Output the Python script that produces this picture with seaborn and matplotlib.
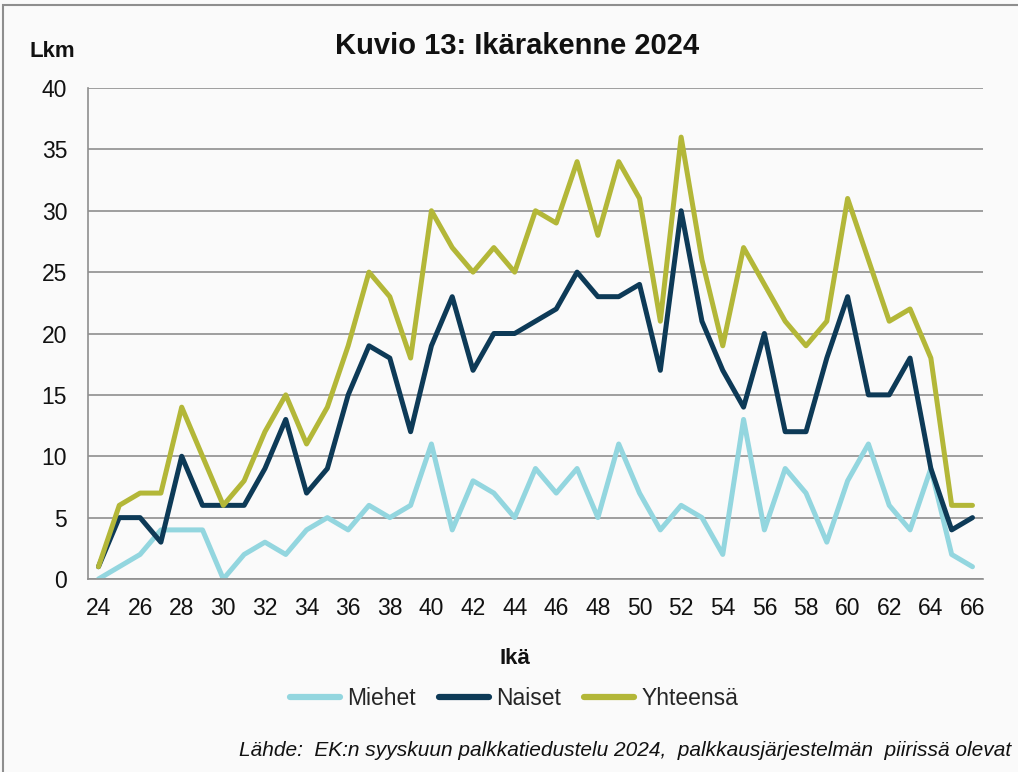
import pandas as pd
import numpy as np
import matplotlib
matplotlib.use("Agg")
import matplotlib.pyplot as plt
from matplotlib.patches import Rectangle
from matplotlib.ticker import MultipleLocator
import seaborn as sns

# Data
ages = list(range(24, 67))
naiset = [1, 5, 5, 3, 10, 6, 6, 6, 9, 13, 7, 9, 15, 19, 18, 12, 19, 23, 17, 20, 20,
          21, 22, 25, 23, 23, 24, 17, 30, 21, 17, 14, 20, 12, 12, 18, 23, 15, 15, 18,
          9, 4, 5]
miehet = [0, 1, 2, 4, 4, 4, 0, 2, 3, 2, 4, 5, 4, 6, 5, 6, 11, 4, 8, 7, 5,
          9, 7, 9, 5, 11, 7, 4, 6, 5, 2, 13, 4, 9, 7, 3, 8, 11, 6, 4,
          9, 2, 1]
yhteensa = [1, 6, 7, 7, 14, 10, 6, 8, 12, 15, 11, 14, 19, 25, 23, 18, 30, 27, 25, 27, 25,
            30, 29, 34, 28, 34, 31, 21, 36, 26, 19, 27, 24, 21, 19, 21, 31, 26, 21, 22,
            18, 6, 6]

series = ["Miehet", "Naiset", "Yhteensä"]
colors = ["#93d6df", "#0d3a57", "#b3b738"]

df = pd.DataFrame({"Ikä": ages, "Miehet": miehet, "Naiset": naiset, "Yhteensä": yhteensa})
long = df.melt(id_vars="Ikä", var_name="Sarja", value_name="Lkm")

sns.set_style("white")
plt.rcParams["font.family"] = ["Liberation Sans Narrow", "Liberation Sans", "DejaVu Sans"]

bg = "#fafafa"
fig = plt.figure(figsize=(10.18, 7.72), dpi=100, facecolor=bg)
ax = fig.add_axes([0.0865, 0.25, 0.879, 0.636])
ax.set_facecolor(bg)

sns.lineplot(data=long, x="Ikä", y="Lkm", hue="Sarja", hue_order=series,
             palette=colors, linewidth=3.6, ax=ax, legend=False)

ax.set_xlim(23.5, 66.5)
ax.set_ylim(0, 40)
ax.yaxis.set_major_locator(MultipleLocator(5))
ax.set_xticks(ages[::2])
ax.xaxis.set_minor_locator(MultipleLocator(1, offset=0.5))
ax.grid(axis="y", color="#8e8e8e", linewidth=1.2)
ax.set_axisbelow(True)
for s in ["top", "right"]:
    ax.spines[s].set_visible(False)
for s in ["left", "bottom"]:
    ax.spines[s].set_color("#8e8e8e")
    ax.spines[s].set_linewidth(1.2)
ax.tick_params(axis="x", which="major", length=0, labelsize=16.5, pad=13, colors="#111111")
ax.tick_params(axis="x", which="minor", length=6, color="#8e8e8e", direction="out")
ax.tick_params(axis="y", which="major", length=6, direction="out",
               labelsize=16.5, pad=9, colors="#111111")
ax.tick_params(axis="y", which="major", color="#8e8e8e")
ax.set_xlabel("")
ax.set_ylabel("")

fig.text(0.508, 0.940, "Kuvio 13: Ikärakenne 2024", ha="center", va="center",
         fontsize=21, fontweight="bold", color="#111111")
fig.text(0.051, 0.933, "Lkm", ha="center", va="center", fontsize=16,
         fontweight="bold", color="#111111")
fig.text(0.506, 0.147, "Ikä", ha="center", va="center", fontsize=16,
         fontweight="bold", color="#111111")

handles = [plt.Line2D([], [], color=c, linewidth=4.5) for c in colors]
fig.legend(handles, series, loc="center", bbox_to_anchor=(0.505, 0.095), ncol=3,
           frameon=False, fontsize=16.5, handlelength=2.2, handletextpad=0.3,
           columnspacing=1.0)

fig.text(0.993, 0.028, "Lähde:  EK:n syyskuun palkkatiedustelu 2024,  palkkausjärjestelmän  piirissä olevat",
         ha="right", va="center", fontsize=15, style="italic", color="#111111")

fig.patches.append(Rectangle((0.003, -0.01), 1.2, 1.003, transform=fig.transFigure,
                             fill=False, edgecolor="#8e8e8e", linewidth=1.5))

fig.savefig("out.png", dpi=100, facecolor=bg)
